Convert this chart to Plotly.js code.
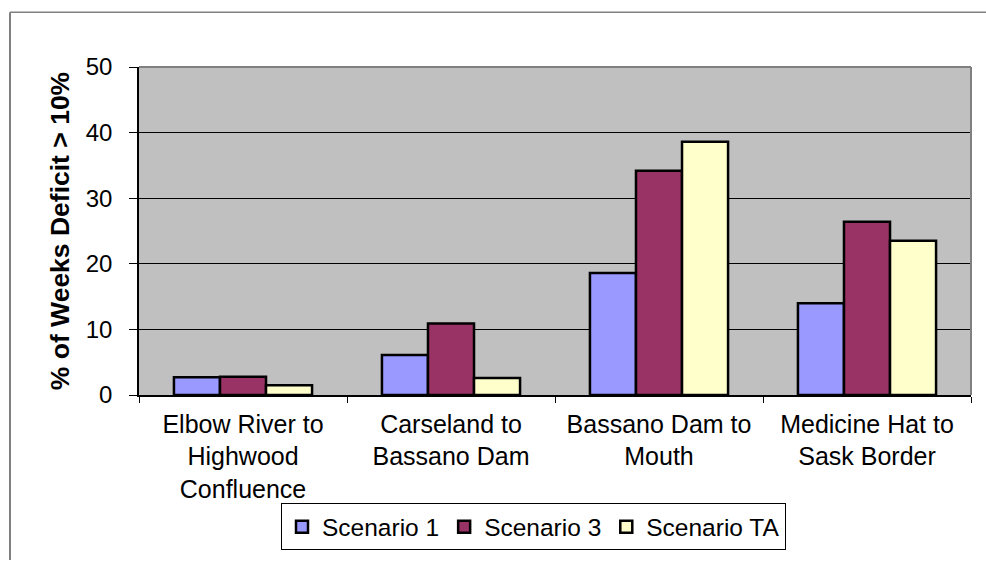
<!DOCTYPE html>
<html>
<head>
<meta charset="utf-8">
<script src="https://cdn.plot.ly/plotly-3.0.1.min.js"></script>
<style>
  html, body { margin: 0; padding: 0; background: #ffffff; }
  #chart { width: 986px; height: 563px; }
</style>
</head>
<body>
<div id="chart"></div>
<script>
// ---- data ----
const categories = [
  "Elbow River to<br>Highwood<br>Confluence",
  "Carseland to<br>Bassano Dam",
  "Bassano Dam to<br>Mouth",
  "Medicine Hat to<br>Sask Border"
];
const seriesNames = ["Scenario 1", "Scenario 3", "Scenario TA"];
const scenario1 = [2.7, 6.1, 18.6, 14.0];
const scenario3 = [2.8, 10.9, 34.2, 26.4];
const scenarioTA = [1.5, 2.6, 38.6, 23.5];
const yTickVals = [0, 10, 20, 30, 40, 50];
const yTitle = "% of Weeks Deficit > 10%";

// ---- styles ----
const colors = ["#9999FF", "#993366", "#FFFFCC"];
const W = 986, H = 563;
const M = { l: 139, r: 15, t: 67, b: 166 };
const pw = W - M.l - M.r, ph = H - M.t - M.b;
const px = v => (v - M.l) / pw;           // pixel x -> paper x
const py = v => (H - M.b - v) / ph;       // pixel y -> paper y
const FONT = "Liberation Sans, Arial, sans-serif";

const allSeries = [scenario1, scenario3, scenarioTA];
const traces = allSeries.map((vals, i) => ({
  type: "bar",
  name: seriesNames[i],
  x: categories,
  y: vals,
  marker: { color: colors[i], line: { color: "#000000", width: 2.5 } },
  hoverinfo: "x+y+name"
}));

const layout = {
  width: W, height: H,
  autosize: false,
  margin: M,
  paper_bgcolor: "#ffffff",
  plot_bgcolor: "#C0C0C0",
  font: { family: FONT, color: "#000000", size: 24 },
  barmode: "group",
  bargap: 0.336,
  bargroupgap: 0,
  showlegend: true,
  legend: {
    orientation: "h",
    x: px(281), xanchor: "left",
    y: py(506), yanchor: "top",
    bgcolor: "#ffffff",
    bordercolor: "#000000",
    borderwidth: 1,
    font: { family: FONT, size: 24.5, color: "#000000" },
    itemwidth: 30,
    traceorder: "normal"
  },
  xaxis: {
    type: "category",
    automargin: false,
    showgrid: false,
    showline: true, linecolor: "#000000", linewidth: 1.5,
    ticks: "outside", tickson: "boundaries", ticklen: 6, tickcolor: "#000000", tickwidth: 1,
    ticklabelstandoff: 6,
    tickfont: { family: FONT, size: 25, color: "#000000" },
    zeroline: false,
    fixedrange: true
  },
  yaxis: {
    range: [0, 50],
    tickvals: yTickVals,
    automargin: false,
    showgrid: true, gridcolor: "#000000", gridwidth: 1,
    showline: true, linecolor: "#000000", linewidth: 1.5,
    ticks: "outside", ticklen: 8, tickcolor: "#000000", tickwidth: 1,
    ticklabelstandoff: 12,
    tickfont: { family: FONT, size: 24, color: "#000000" },
    zeroline: false,
    title: { text: "<b>" + yTitle + "</b>", font: { family: FONT, size: 26.5, color: "#000000" }, standoff: 8 },
    fixedrange: true
  },
  shapes: [
    // plot area border (top and right, gray)
    { type: "line", xref: "paper", yref: "paper", x0: 0, x1: 1, y0: 1, y1: 1,
      line: { color: "#808080", width: 2 } },
    { type: "line", xref: "paper", yref: "paper", x0: 1, x1: 1, y0: 0, y1: 1,
      line: { color: "#808080", width: 2 } },
    // outer chart frame (top and left)
    { type: "line", xref: "paper", yref: "paper", x0: px(10), x1: px(986), y0: py(12), y1: py(12),
      line: { color: "#808080", width: 1.5 } },
    { type: "line", xref: "paper", yref: "paper", x0: px(10), x1: px(10), y0: py(12), y1: py(563),
      line: { color: "#808080", width: 2 } }
  ]
};

Plotly.newPlot("chart", traces, layout, { displayModeBar: false, staticPlot: false });
</script>
</body>
</html>
